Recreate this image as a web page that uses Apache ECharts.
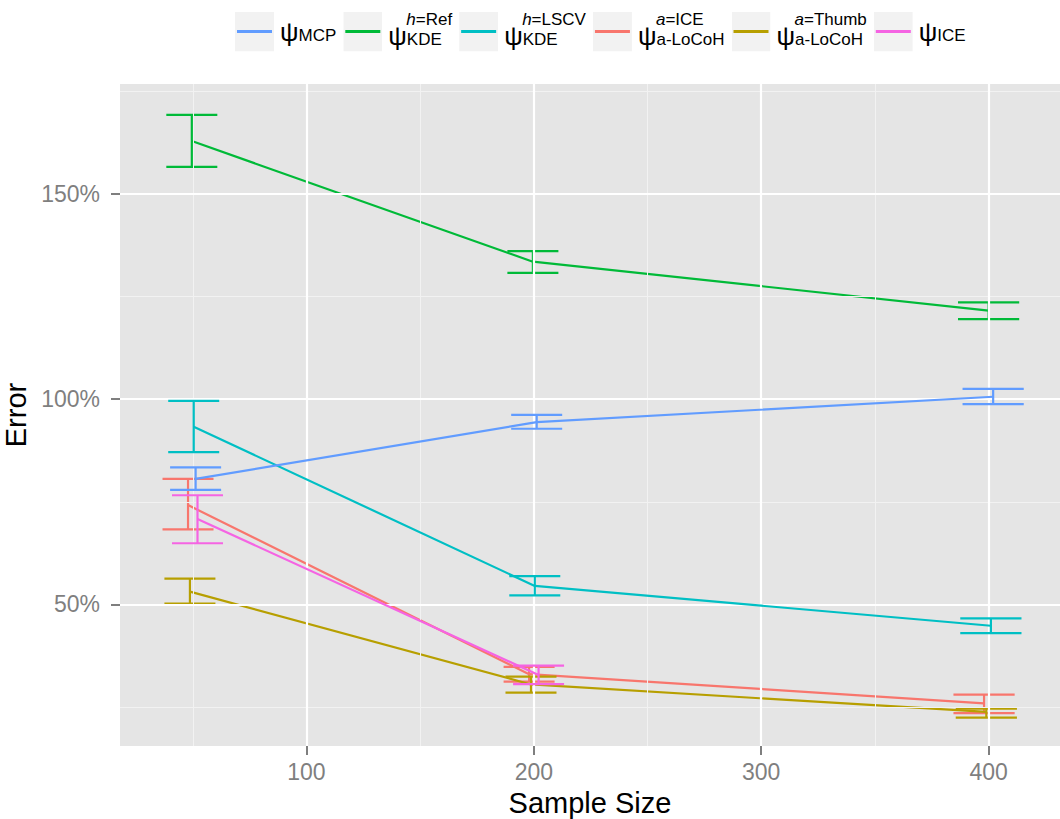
<!DOCTYPE html>
<html><head><meta charset="utf-8">
<script src="https://cdn.jsdelivr.net/npm/echarts@6/dist/echarts.min.js"></script>
<style>html,body{margin:0;padding:0;background:#fff}#c{width:1060px;height:819px}</style>
</head><body><div id="c"></div>
<script>
// ---------------- data ----------------
const sampleSizes = [50, 200, 400];
const iceSizes = [50, 200];
const xTickLabels = [100, 200, 300, 400];
const yTickLabels = [50, 100, 150];
const xMinorGrid = [50, 150, 250, 350];
const yMinorGrid = [25, 75, 125, 175];

const mcpMean  = [80.6, 94.4, 100.6];
const mcpLow   = [77.9, 92.8, 98.8];
const mcpHigh  = [83.4, 96.2, 102.5];

const kdeRefMean = [162.9, 133.5, 121.6];
const kdeRefLow  = [156.6, 130.8, 119.5];
const kdeRefHigh = [169.3, 136.1, 123.6];

const kdeLscvMean = [93.3, 54.5, 44.8];
const kdeLscvLow  = [87.1, 52.2, 43.0];
const kdeLscvHigh = [99.6, 56.9, 46.6];

const locohIceMean = [74.2, 33.0, 25.9];
const locohIceLow  = [68.3, 31.2, 23.5];
const locohIceHigh = [80.6, 34.8, 28.0];

const locohThumbMean = [53.1, 30.5, 23.8];
const locohThumbLow  = [50.2, 28.5, 22.4];
const locohThumbHigh = [56.3, 32.4, 24.6];

const iceMean = [70.8, 32.8];
const iceLow  = [64.9, 30.6];
const iceHigh = [76.6, 35.1];

// legend order
const legendOrder = ['MCP', 'KDE_Ref', 'KDE_LSCV', 'aLoCoH_ICE', 'aLoCoH_Thumb', 'ICE'];
// dodge (factor) order
const dodgeOrder = ['aLoCoH_ICE', 'aLoCoH_Thumb', 'KDE_Ref', 'KDE_LSCV', 'MCP', 'ICE'];

const methodData = {
  MCP:          {sizes: sampleSizes, mean: mcpMean, low: mcpLow, high: mcpHigh},
  KDE_Ref:      {sizes: sampleSizes, mean: kdeRefMean, low: kdeRefLow, high: kdeRefHigh},
  KDE_LSCV:     {sizes: sampleSizes, mean: kdeLscvMean, low: kdeLscvLow, high: kdeLscvHigh},
  aLoCoH_ICE:   {sizes: sampleSizes, mean: locohIceMean, low: locohIceLow, high: locohIceHigh},
  aLoCoH_Thumb: {sizes: sampleSizes, mean: locohThumbMean, low: locohThumbLow, high: locohThumbHigh},
  ICE:          {sizes: iceSizes, mean: iceMean, low: iceLow, high: iceHigh}
};

// ---------------- style ----------------
const colors = {
  aLoCoH_ICE: '#F8766D', aLoCoH_Thumb: '#B79F00', KDE_Ref: '#00BA38',
  KDE_LSCV: '#00BFC4', MCP: '#619CFF', ICE: '#F564E3'
};
const FONT = 'Liberation Sans, Arial, Helvetica, sans-serif';
const DODGE_W = 5;       // dodge width in data units
const ERR_W = 134.6;     // errorbar width before dodge division

function dodgeInfo(method, size) {
  const present = dodgeOrder.filter(m => methodData[m].sizes.indexOf(size) >= 0);
  const n = present.length;
  const i = present.indexOf(method);
  return {x: size + DODGE_W * ((i + 0.5) / n - 0.5), half: ERR_W / n / 2};
}

const legendLabels = {
  MCP: '{psi|ψ}{sub|MCP}',
  KDE_Ref: '{ph|}{it|h}{sup|=Ref}\n{psi|ψ}{sub|KDE}',
  KDE_LSCV: '{ph|}{it|h}{sup|=LSCV}\n{psi|ψ}{sub|KDE}',
  aLoCoH_ICE: '{ph|}{it|a}{sup|=ICE}\n{psi|ψ}{sub|a-LoCoH}',
  aLoCoH_Thumb: '{ph|}{it|a}{sup|=Thumb}\n{psi|ψ}{sub|a-LoCoH}',
  ICE: '{psi|ψ}{sub|ICE}'
};

function keyIcon(c) {
  const svg = "<svg xmlns='http://www.w3.org/2000/svg' width='39' height='40'>" +
    "<rect width='39' height='40' fill='#F2F2F2'/>" +
    "<rect x='2' y='18.5' width='35' height='3' fill='" + c + "'/></svg>";
  return 'image://data:image/svg+xml;charset=utf-8,' + encodeURIComponent(svg);
}

const series = [];
// gridlines (drawn through the axes' scales)
const gridSeries = {
  type: 'line', name: '__grid', data: [], z: 0, silent: true,
  markLine: {
    silent: true, symbol: ['none', 'none'], label: {show: false}, animation: false,
    data: [
      ...yMinorGrid.map(v => ({yAxis: v, lineStyle: {color: '#F2F2F2', width: 1, type: 'solid'}})),
      ...xMinorGrid.map(v => ({xAxis: v, lineStyle: {color: '#F2F2F2', width: 1, type: 'solid'}})),
      ...yTickLabels.map(v => ({yAxis: v, lineStyle: {color: '#FFFFFF', width: 2.2, type: 'solid'}})),
      ...xTickLabels.map(v => ({xAxis: v, lineStyle: {color: '#FFFFFF', width: 2.2, type: 'solid'}}))
    ]
  }
};
series.push(gridSeries);

dodgeOrder.forEach((m, k) => {
  const d = methodData[m];
  const lineData = d.sizes.map((s, j) => [dodgeInfo(m, s).x, d.mean[j]]);
  const errData = d.sizes.map((s, j) => {
    const di = dodgeInfo(m, s);
    return [di.x, d.low[j], d.high[j], di.half];
  });
  series.push({
    type: 'custom', name: m, z: 2 + k, data: errData,
    encode: {x: 0, y: [1, 2]},
    renderItem: function (params, api) {
      const x = api.value(0), lo = api.value(1), hi = api.value(2), hw = api.value(3);
      const a = api.coord([x, lo]), b = api.coord([x, hi]);
      const l1 = api.coord([x - hw, lo]), r1 = api.coord([x + hw, lo]);
      const l2 = api.coord([x - hw, hi]), r2 = api.coord([x + hw, hi]);
      const st = {stroke: colors[m], lineWidth: 2.2, fill: null};
      return {type: 'group', children: [
        {type: 'line', shape: {x1: a[0], y1: a[1], x2: b[0], y2: b[1]}, style: st},
        {type: 'line', shape: {x1: l1[0], y1: l1[1], x2: r1[0], y2: r1[1]}, style: st},
        {type: 'line', shape: {x1: l2[0], y1: l2[1], x2: r2[0], y2: r2[1]}, style: st}
      ]};
    },
    itemStyle: {color: colors[m]},
    animation: false
  });
  series.push({
    type: 'line', name: m, z: 2 + k, data: lineData,
    showSymbol: false, symbol: 'none',
    lineStyle: {color: colors[m], width: 2.2},
    itemStyle: {color: colors[m]},
    animation: false
  });
});

const richBase = {
  psi: {fontSize: 26, fontFamily: FONT, color: '#000', lineHeight: 24, verticalAlign: 'middle'},
  sub: {fontSize: 17, fontFamily: FONT, color: '#000', lineHeight: 15, verticalAlign: 'bottom'},
  ph: {width: 18, height: 8, lineHeight: 8},
  it: {fontSize: 17, fontFamily: FONT, fontStyle: 'italic', color: '#000', lineHeight: 8},
  sup: {fontSize: 17, fontFamily: FONT, color: '#000', lineHeight: 8}
};

const option = {
  backgroundColor: '#FFFFFF',
  animation: false,
  textStyle: {fontFamily: FONT},
  grid: {left: 120, right: 0, top: 84, bottom: 73, show: true, backgroundColor: '#E5E5E5',
    borderWidth: 0, containLabel: false, outerBoundsMode: 'none'},
  legend: {
    orient: 'horizontal', left: 230, top: 6,
    itemWidth: 39, itemHeight: 40, itemGap: 7,
    selectedMode: false,
    data: legendOrder.map(m => ({name: m, icon: keyIcon(colors[m])})),
    formatter: name => legendLabels[name],
    textStyle: {fontFamily: FONT, color: '#000', padding: [0, 0, 0, 1], rich: richBase}
  },
  xAxis: {
    type: 'value', min: 18, max: 431.4,
    name: 'Sample Size', nameLocation: 'middle', nameGap: 42,
    nameTextStyle: {fontSize: 29, color: '#000', fontFamily: FONT},
    axisLine: {show: false},
    splitLine: {show: false},
    axisTick: {show: true, length: 9, customValues: xTickLabels, lineStyle: {color: '#7F7F7F', width: 2}},
    axisLabel: {customValues: xTickLabels, fontSize: 23, color: '#7F7F7F', margin: 14, fontFamily: FONT}
  },
  yAxis: {
    type: 'value', min: 15.5, max: 176.8,
    name: 'Error', nameLocation: 'middle', nameGap: 82,
    nameTextStyle: {fontSize: 29, color: '#000', fontFamily: FONT},
    axisLine: {show: false},
    splitLine: {show: false},
    axisTick: {show: true, length: 9, customValues: yTickLabels, lineStyle: {color: '#7F7F7F', width: 2}},
    axisLabel: {customValues: yTickLabels, fontSize: 23, color: '#7F7F7F', margin: 20, fontFamily: FONT,
      formatter: v => v + '%'}
  },
  series: series
};

const chart = echarts.init(document.getElementById('c'), null, {renderer: 'svg'});
chart.setOption(option);
</script></body></html>
